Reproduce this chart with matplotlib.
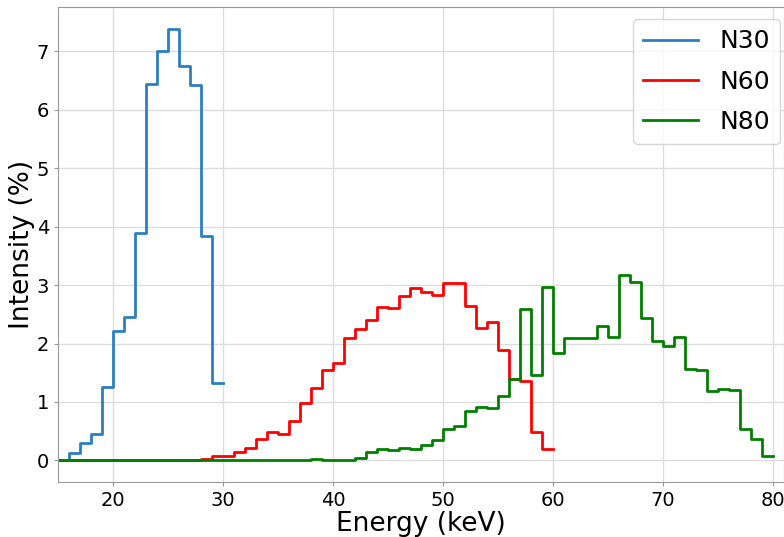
import matplotlib.pyplot as plt

# bin edges (keV) and intensity (%) per 1 keV bin
n30_edges = list(range(15, 31))
n30_values = [0.0, 0.13, 0.29, 0.46, 1.26, 2.22, 2.45, 3.90, 6.44, 7.00, 7.39,
              6.75, 6.43, 3.84, 1.32]

n60_edges = list(range(15, 61))
n60_values = [0.0, 0.0, 0.0, 0.0, 0.0, 0.0, 0.0, 0.0, 0.01, 0.0, 0.0,
              0.0, 0.0, 0.02, 0.07, 0.08, 0.14, 0.22, 0.37, 0.49, 0.46,
              0.67, 0.99, 1.24, 1.55, 1.66, 2.10, 2.25, 2.40, 2.62, 2.61,
              2.81, 2.95, 2.88, 2.83, 3.03, 3.04, 2.64, 2.27, 2.37, 1.89,
              1.39, 1.36, 0.48, 0.20]

n80_edges = list(range(15, 81))
n80_values = [0.0] * 23 + [0.03, 0.0, 0.0, 0.0, 0.04, 0.14, 0.20, 0.18, 0.21,
              0.20, 0.26, 0.35, 0.54, 0.59, 0.84, 0.92, 0.90, 1.11, 1.40,
              2.59, 1.47, 2.96, 1.84, 2.10, 2.10, 2.10, 2.30, 2.12, 3.17,
              3.06, 2.43, 2.05, 1.96, 2.12, 1.57, 1.55, 1.19, 1.23, 1.20,
              0.54, 0.37, 0.07]

series = [("N30", n30_edges, n30_values, "#2b7fc1"),
          ("N60", n60_edges, n60_values, "red"),
          ("N80", n80_edges, n80_values, "green")]

fig = plt.figure(figsize=(7.84, 5.37), dpi=100)
ax = fig.add_axes([0.074, 0.1024, 0.926, 0.8846])

for name, edges, values, color in series:
    # repeat the last value so the final bin gets its flat top
    ax.step(edges, values + [values[-1]], where="post", color=color,
            linewidth=2, label=name)

ax.set_xlim(15, 81)
ax.set_xticks([20, 30, 40, 50, 60, 70, 80])
ax.set_yticks(range(0, 8))
ax.grid(True, color="#dddddd", linewidth=1)
ax.set_axisbelow(True)
for side in ax.spines.values():
    side.set_color("#999999")
ax.tick_params(labelsize=14, color="#999999", length=3)
ax.set_xlabel("Energy (keV)", fontsize=19, labelpad=1)
ax.set_ylabel("Intensity (%)", fontsize=19, labelpad=1)
# the original figure looks cropped on the right, so nudge the legend out a bit
ax.legend(loc="upper right", bbox_to_anchor=(1.012, 1.0), fontsize=18,
          handlelength=2.2, handletextpad=0.85, labelspacing=0.65,
          borderaxespad=0.5)

fig.savefig("out.png", dpi=100)
